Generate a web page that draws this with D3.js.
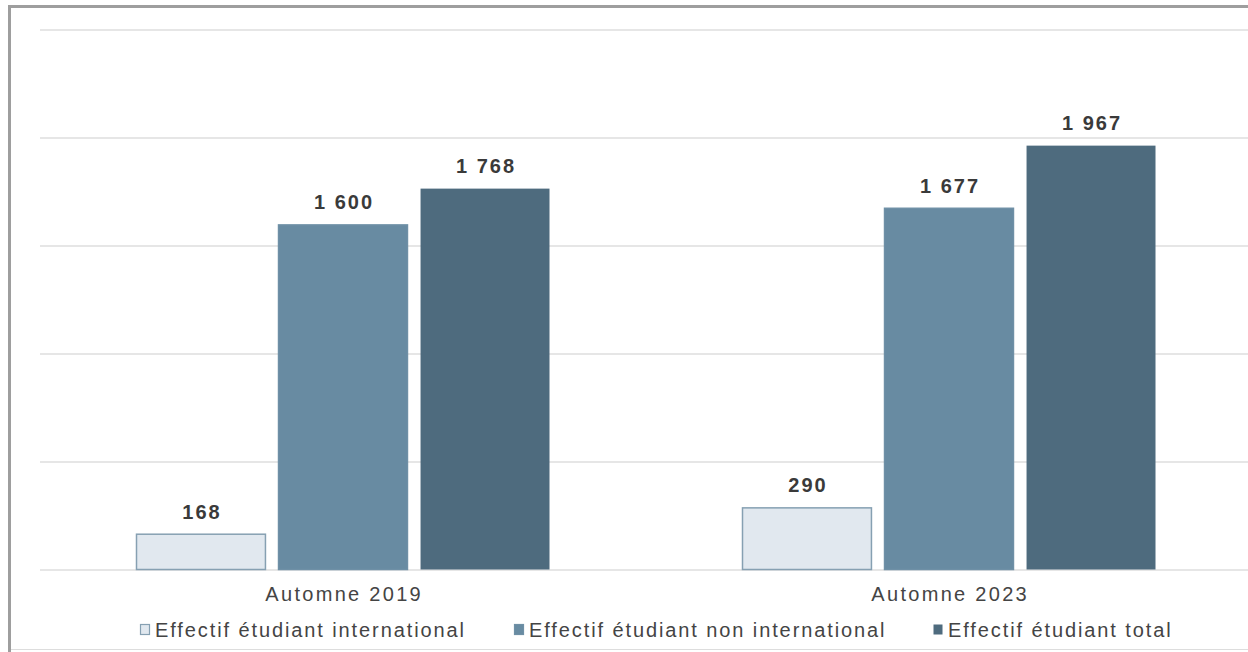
<!DOCTYPE html>
<html>
<head>
<meta charset="utf-8">
<script src="https://cdn.jsdelivr.net/npm/d3@7"></script>
<style>
  body { margin: 0; background: #fff; }
  svg { display: block; font-family: "Liberation Sans", Arial, sans-serif; }
</style>
</head>
<body>
<svg id="chart"></svg>
<script>
var categories = ["Automne 2019", "Automne 2023"];
var seriesNames = ["Effectif étudiant international", "Effectif étudiant non international", "Effectif étudiant total"];
var international = [168, 290];
var nonInternational = [1600, 1677];
var total = [1768, 1967];
var yTicks = [0, 500, 1000, 1500, 2000, 2500];

var colors = ["#e1e8ef", "#688ba2", "#4e6b7e"];
var strokes = ["#86a0b2", "#6f90a6", "#56728500"];

var width = 1248, height = 652;
var svg = d3.select("#chart").attr("width", width).attr("height", height);

var x = d3.scaleBand().domain(categories).range([40, 1252]);
var x1 = d3.scaleBand().domain(d3.range(3)).range([96, 510]).paddingInner(0.085);
var y = d3.scaleLinear().domain([0, 2500]).range([570, 30]);

// frame (only top and left are visible, bottom is a faint line)
svg.append("line").attr("x1", 8).attr("x2", 1248).attr("y1", 6.5).attr("y2", 6.5)
    .attr("stroke", "#9e9e9e").attr("stroke-width", 3);
svg.append("line").attr("x1", 9.5).attr("x2", 9.5).attr("y1", 5).attr("y2", 652)
    .attr("stroke", "#9e9e9e").attr("stroke-width", 3);
svg.append("line").attr("x1", 11).attr("x2", 1248).attr("y1", 649.5).attr("y2", 649.5)
    .attr("stroke", "#dddddd").attr("stroke-width", 1);

// grid
svg.append("g").selectAll("line").data(yTicks).enter().append("line")
    .attr("x1", 40).attr("x2", 1248)
    .attr("y1", function (d) { return y(d); })
    .attr("y2", function (d) { return y(d); })
    .attr("stroke", "#e6e6e6").attr("stroke-width", 2);

var rows = categories.map(function (c, i) {
    return { cat: c, values: [international[i], nonInternational[i], total[i]] };
});

var fmt = function (v) { return d3.format(",")(v).replace(",", " "); };

var group = svg.append("g").selectAll("g").data(rows).enter().append("g")
    .attr("transform", function (d) { return "translate(" + x(d.cat) + ",0)"; });

group.selectAll("rect").data(function (d) { return d.values; }).enter().append("rect")
    .attr("x", function (d, i) { return x1(i) + 0.5; })
    .attr("y", function (d) { return y(d) + 0.5; })
    .attr("width", x1.bandwidth() - 1)
    .attr("height", function (d) { return y(0) - y(d) - 1; })
    .attr("fill", function (d, i) { return colors[i]; })
    .attr("stroke", function (d, i) { return strokes[i]; })
    .attr("stroke-width", 1.5);

group.selectAll("text").data(function (d) { return d.values; }).enter().append("text")
    .attr("x", function (d, i) { return x1(i) + x1.bandwidth() / 2 + 1; })
    .attr("y", function (d) { return y(d) - 15; })
    .attr("text-anchor", "middle")
    .attr("font-size", 20).attr("font-weight", "bold").attr("fill", "#3a3a3a")
    .attr("letter-spacing", 2)
    .text(function (d) { return fmt(d); });

// category axis labels
svg.append("g").selectAll("text").data(categories).enter().append("text")
    .attr("x", function (d) { return x(d) + x.bandwidth() / 2 + 1.2; })
    .attr("y", 601)
    .attr("text-anchor", "middle")
    .attr("font-size", 20).attr("fill", "#444")
    .attr("letter-spacing", 2.3)
    .text(function (d) { return d; });

// legend
var legendX = [140, 514, 933];
var legend = svg.append("g").selectAll("g").data(seriesNames).enter().append("g")
    .attr("transform", function (d, i) { return "translate(" + legendX[i] + ",630)"; });
legend.append("rect").attr("x", 0.5).attr("y", -5.5).attr("width", 9).attr("height", 10)
    .attr("fill", function (d, i) { return colors[i]; })
    .attr("stroke", function (d, i) { return strokes[i]; }).attr("stroke-width", 1.2);
legend.append("text").attr("x", 15).attr("y", 6.5)
    .attr("font-size", 20).attr("fill", "#444")
    .attr("letter-spacing", 1.9)
    .text(function (d) { return d; });
</script>
</body>
</html>
